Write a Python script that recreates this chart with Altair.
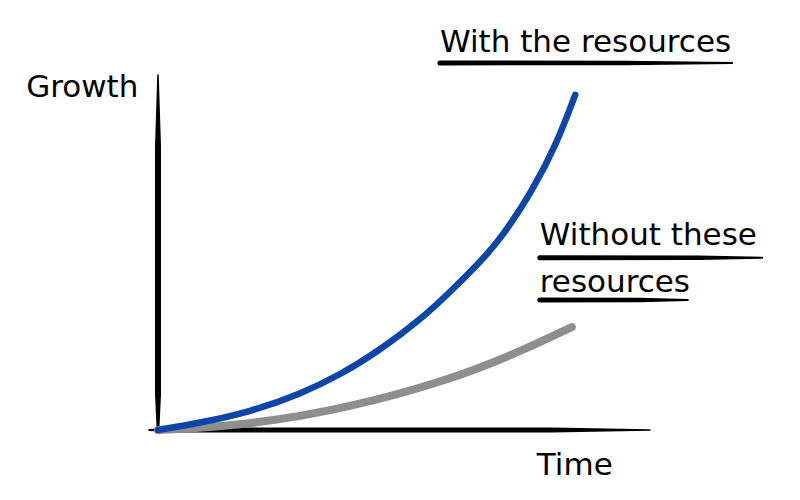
import altair as alt
import pandas as pd

# Curves (Time 0-100, Growth 0-100)
with_time = [0, 8.5, 18.7, 28.9, 37.0, 45.1, 53.3, 60.0, 65.4, 69.5, 76.2, 81.1, 84.8]
with_growth = [0, 2.0, 5.1, 10.1, 15.5, 22.5, 31.0, 39.7, 47.3, 53.5, 67.6, 80.8, 94.4]
without_time = [0, 18.7, 39.0, 59.3, 73.0, 84.1]
without_growth = [0, 1.4, 6.3, 14.1, 21.7, 29.0]

# Labels
label_text = ["Growth", "With the resources", "Without these", "resources", "Time"]
label_x = [-26.8, 57.3, 77.6, 77.6, 77.0]
label_y = [93.8, 106.5, 52.1, 38.9, -12.7]

# Hand-drawn strokes: axes and underlines (tapered)
stroke_id = ["yaxis"] * 4 + ["xaxis"] * 4 + ["u1"] * 3 + ["u2"] * 3 + ["u3"] * 3
stroke_x = [0, 0, 0, 0, -1.8, 4, 80, 100,
            57.3, 95, 116.7, 77.6, 110, 122.8, 77.6, 98, 107.7]
stroke_y = [-0.5, 10, 80, 100, 0, 0, 0, 0,
            103.4, 103.4, 103.4, 48.5, 48.5, 48.5, 36.6, 36.6, 36.6]
stroke_w = [2.5, 6, 6, 1.5, 2, 5, 5, 1.5,
            5, 4.5, 2, 5, 4.5, 2, 5, 4.5, 2]

curves = pd.DataFrame({
    "time": with_time + without_time,
    "growth": with_growth + without_growth,
    "series": ["With"] * len(with_time) + ["Without"] * len(without_time),
    "order": list(range(len(with_time))) + list(range(len(without_time))),
})
labels = pd.DataFrame({"label": label_text, "x": label_x, "y": label_y})
strokes = pd.DataFrame({"id": stroke_id, "x": stroke_x, "y": stroke_y,
                        "w": stroke_w, "order": list(range(len(stroke_id)))})

xs = alt.Scale(domain=[0, 100], clamp=False, nice=False, zero=False)
ys = alt.Scale(domain=[0, 100], clamp=False, nice=False, zero=False)

stroke_layer = alt.Chart(strokes).mark_trail(color="black").encode(
    x=alt.X("x:Q", scale=xs, axis=None),
    y=alt.Y("y:Q", scale=ys, axis=None),
    size=alt.Size("w:Q", scale=None, legend=None),
    detail="id:N",
    order=alt.Order("order:Q"),
)

gray = alt.Chart(curves[curves.series == "Without"]).mark_line(
    color="#8e8e8e", strokeWidth=8, strokeCap="round", interpolate="basis"
).encode(
    x=alt.X("time:Q", scale=xs, axis=None),
    y=alt.Y("growth:Q", scale=ys, axis=None),
    order=alt.Order("order:Q"),
)

blue = alt.Chart(curves[curves.series == "With"]).mark_line(
    color="#0b46a8", strokeWidth=6.5, strokeCap="round", interpolate="basis"
).encode(
    x=alt.X("time:Q", scale=xs, axis=None),
    y=alt.Y("growth:Q", scale=ys, axis=None),
    order=alt.Order("order:Q"),
)

text = alt.Chart(labels).mark_text(
    align="left", baseline="alphabetic", font="DejaVu Sans", fontSize=31, color="black"
).encode(
    x=alt.X("x:Q", scale=xs, axis=None),
    y=alt.Y("y:Q", scale=ys, axis=None),
    text="label:N",
)

chart = alt.layer(stroke_layer, gray, blue, text).properties(
    width=492, height=355,
    padding={"left": 150, "top": 67, "right": 142, "bottom": 62},
    autosize=alt.AutoSizeParams(type="none"),
    background="white",
).configure_view(stroke=None)

chart.save("out.html", embed_options={"renderer": "svg", "actions": False})
